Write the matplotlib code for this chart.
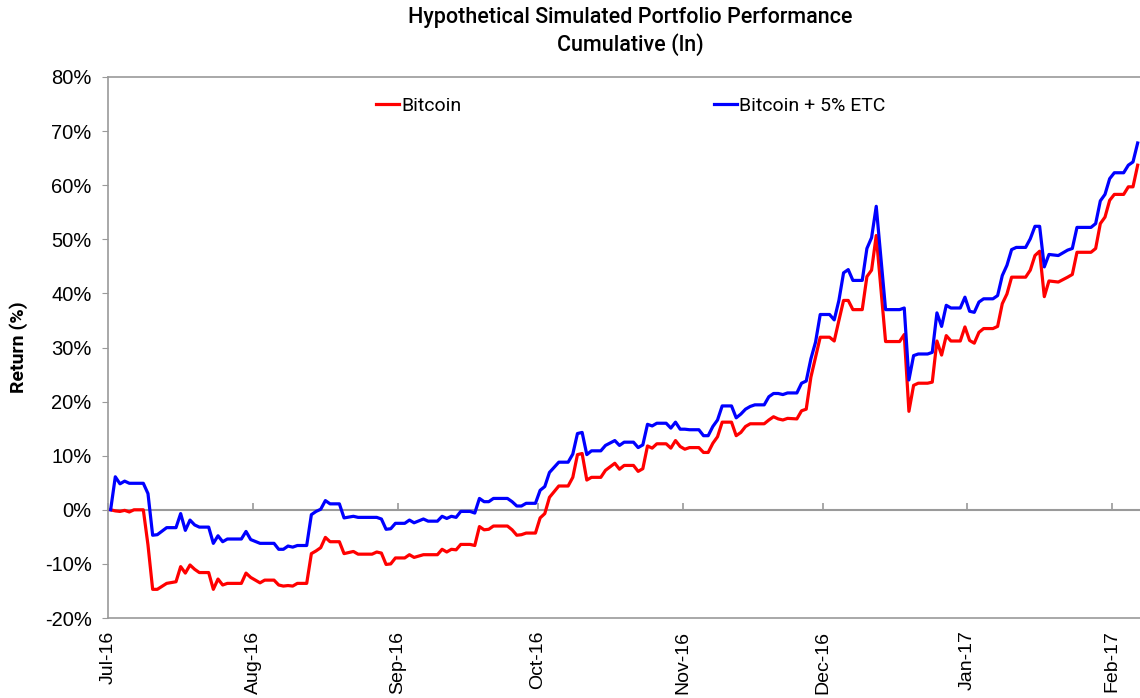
import numpy as np
import matplotlib
matplotlib.use("Agg")
import matplotlib.pyplot as plt

START_DATE = "2016-07-01"
# observation dates, as days after START_DATE
day_offset = [
    0, 1, 2, 3, 4, 5, 7, 8, 9, 10,
    12, 14, 15, 16, 17, 18, 19, 21, 22, 23,
    24, 25, 28, 29, 30, 32, 33, 35, 36, 37,
    38, 39, 40, 42, 43, 44, 45, 46, 47, 49,
    50, 52, 53, 56, 57, 58, 59, 60, 61, 63,
    64, 65, 67, 68, 70, 71, 72, 73, 74, 75,
    77, 78, 79, 80, 81, 82, 85, 86, 87, 88,
    89, 91, 92, 93, 94, 96, 98, 99, 100, 101,
    102, 103, 105, 106, 108, 109, 110, 112, 113, 114,
    115, 116, 117, 119, 120, 121, 122, 123, 124, 126,
    127, 128, 129, 130, 131, 133, 134, 135, 136, 137,
    138, 140, 141, 142, 143, 144, 145, 147, 148, 149,
    150, 151, 152, 154, 155, 156, 157, 158, 159, 161,
    162, 163, 164, 166, 169, 170, 171, 172, 173, 175,
    176, 177, 178, 179, 180, 182, 183, 184, 185, 186,
    187, 189, 190, 191, 192, 193, 194, 196, 197, 198,
    199, 200, 201, 203, 205, 206, 207, 210, 211, 212,
    213, 214, 215, 217, 218, 219, 220,
]

bitcoin_etc = [
    0, 6.1, 4.8, 5.3, 4.9, 4.9, 4.9, 3.0, -4.7, -4.6,
    -3.3, -3.3, -0.7, -3.8, -1.9, -2.8, -3.2, -3.2, -6.2, -4.8,
    -5.9, -5.4, -5.4, -4.0, -5.5, -6.2, -6.2, -6.2, -7.3, -7.3,
    -6.7, -6.9, -6.6, -6.6, -0.9, -0.3, 0.1, 1.7, 1.1, 1.1,
    -1.5, -1.2, -1.4, -1.4, -1.4, -1.7, -3.6, -3.5, -2.5, -2.5,
    -1.9, -2.4, -1.7, -2.1, -2.1, -1.2, -1.6, -1.2, -1.4, -0.3,
    -0.3, -0.6, 2.1, 1.5, 1.5, 2.1, 2.1, 1.5, 0.7, 0.7,
    1.2, 1.2, 3.6, 4.3, 6.9, 8.8, 8.8, 10.3, 14.1, 14.3,
    10.2, 10.9, 10.9, 11.9, 12.8, 11.9, 12.5, 12.5, 11.5, 12.0,
    15.8, 15.5, 16.0, 16.0, 15.1, 16.2, 14.9, 14.9, 14.8, 14.8,
    13.7, 13.7, 15.4, 16.6, 19.2, 19.2, 17.0, 17.7, 18.6, 19.1,
    19.4, 19.4, 20.9, 21.5, 21.5, 21.3, 21.6, 21.6, 23.4, 23.8,
    27.9, 31.0, 36.1, 36.1, 35.1, 38.7, 43.8, 44.4, 42.4, 42.4,
    48.3, 50.3, 56.1, 37.0, 37.0, 37.3, 24.0, 28.5, 28.8, 28.8,
    29.1, 36.4, 33.9, 37.8, 37.3, 37.3, 39.3, 36.7, 36.5, 38.4,
    39.0, 39.0, 39.6, 43.3, 45.2, 48.1, 48.5, 48.5, 50.1, 52.4,
    52.4, 44.9, 47.2, 47.0, 48.0, 48.3, 52.2, 52.2, 52.9, 57.1,
    58.3, 61.2, 62.3, 62.3, 63.7, 64.3, 67.8,
]

bitcoin = [
    0, -0.2, -0.3, -0.1, -0.4, 0.0, 0.0, -6.5, -14.7, -14.7,
    -13.6, -13.3, -10.5, -11.7, -10.2, -11.0, -11.6, -11.6, -14.7, -12.8,
    -13.9, -13.6, -13.6, -11.7, -12.5, -13.5, -13.0, -13.0, -13.9, -14.1,
    -14.0, -14.1, -13.6, -13.6, -8.1, -7.6, -7.0, -5.1, -5.9, -5.9,
    -8.1, -7.7, -8.2, -8.2, -7.8, -8.0, -10.1, -10.0, -8.9, -8.9,
    -8.3, -8.8, -8.3, -8.3, -8.3, -7.3, -7.8, -7.3, -7.4, -6.4,
    -6.4, -6.6, -3.1, -3.7, -3.6, -3.0, -3.0, -3.7, -4.7, -4.6,
    -4.3, -4.3, -1.5, -0.7, 2.3, 4.4, 4.4, 6.0, 10.2, 10.4,
    5.5, 6.0, 6.0, 7.3, 8.6, 7.5, 8.2, 8.2, 7.1, 7.6,
    11.8, 11.4, 12.2, 12.2, 11.4, 12.8, 11.7, 11.2, 11.5, 11.5,
    10.6, 10.6, 12.3, 13.5, 16.2, 16.2, 13.7, 14.3, 15.4, 15.9,
    15.9, 15.9, 16.6, 17.2, 16.8, 16.6, 16.9, 16.8, 18.3, 18.6,
    24.5, 28.2, 31.9, 31.9, 31.2, 35.0, 38.7, 38.7, 37.0, 37.0,
    43.1, 44.3, 50.7, 31.1, 31.1, 32.4, 18.2, 23.0, 23.4, 23.4,
    23.6, 31.2, 28.6, 32.2, 31.2, 31.2, 33.8, 31.3, 30.8, 32.8,
    33.5, 33.5, 33.9, 38.1, 39.9, 43.0, 43.0, 43.0, 44.3, 47.0,
    47.8, 39.4, 42.3, 42.1, 43.0, 43.5, 47.6, 47.6, 48.3, 52.9,
    54.1, 57.2, 58.3, 58.3, 59.7, 59.7, 63.7,
]

series_names = ["Bitcoin", "Bitcoin + 5% ETC"]
month_ticks = ["2016-07-01", "2016-08-01", "2016-09-01", "2016-10-01",
               "2016-11-01", "2016-12-01", "2017-01-01", "2017-02-01"]
month_labels = ["Jul-16", "Aug-16", "Sep-16", "Oct-16",
                "Nov-16", "Dec-16", "Jan-17", "Feb-17"]
y_ticks = [-20, -10, 0, 10, 20, 30, 40, 50, 60, 70, 80]

# ---------------------------------------------------------------
# points sit in the middle of each day's slot (date axis)
dates = (np.datetime64(START_DATE) + np.array(day_offset).astype("timedelta64[D]")
         ).astype("datetime64[h]") + np.timedelta64(12, "h")
ticks = np.array(month_ticks, dtype="datetime64[D]")

fig = plt.figure(figsize=(11.4, 6.98), dpi=100)
ax = fig.add_axes([108.3 / 1140, 80 / 698, 1 - 108.3 / 1140, 541 / 698])

grey = "#9a9a9a"
ax.plot(dates, bitcoin, color="#ff0000", lw=2.3, label=series_names[0],
        solid_joinstyle="round", zorder=3)
ax.plot(dates, bitcoin_etc, color="#0000ff", lw=2.3, label=series_names[1],
        solid_joinstyle="round", zorder=4)

ax.set_xlim(np.datetime64(START_DATE),
            np.datetime64(START_DATE) + np.timedelta64(day_offset[-1] + 1, "D"))
ax.set_ylim(y_ticks[0], y_ticks[-1])
ax.set_yticks(y_ticks)
ax.set_yticklabels([f"{v}%" for v in y_ticks], fontsize=14.5, family="Liberation Sans")
ax.set_xticks(ticks)
ax.set_xticklabels(month_labels, rotation=90, fontsize=14, family="Liberation Sans",
                   va="top", ha="center")
ax.tick_params(axis="x", length=0, pad=9)
ax.tick_params(axis="y", length=4, color=grey, direction="out", pad=8)

for s in ["left", "bottom", "top"]:
    ax.spines[s].set_color(grey)
    ax.spines[s].set_linewidth(1.2)
ax.spines["right"].set_visible(False)

# horizontal axis line crossing at 0% with small inner ticks
sec = ax.secondary_xaxis((0 - y_ticks[0]) / (y_ticks[-1] - y_ticks[0]))
sec.set_xticks(ticks)
sec.set_xticklabels([])
sec.tick_params(axis="x", direction="in", length=5, color=grey, width=1.2)
sec.spines["bottom"].set_color(grey)
sec.spines["bottom"].set_linewidth(1.5)

ax.set_ylabel("Return (%)", fontsize=14, fontweight="bold", family="Roboto", labelpad=12)

leg = ax.legend(loc="upper left", bbox_to_anchor=(0.2424, 0.995), ncol=2, frameon=False,
                prop={"family": "Roboto", "size": 14}, handlelength=1.2,
                handletextpad=0.12, columnspacing=12.95)

fig.text(630 / 1140, 1 - 18 / 698, "Hypothetical Simulated Portfolio Performance",
         ha="center", va="center", fontsize=15.5, family="Roboto", fontweight="medium")
fig.text(630 / 1140, 1 - 45 / 698, "Cumulative (ln)",
         ha="center", va="center", fontsize=15.5, family="Roboto", fontweight="medium")

fig.savefig("out.png", dpi=100)
